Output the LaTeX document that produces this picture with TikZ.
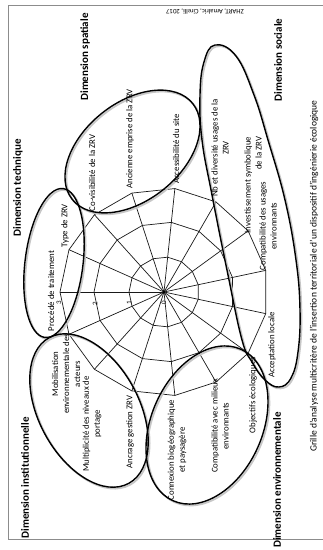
\documentclass[tikz,border=0pt]{standalone}
\usepackage{fontspec}
\setmainfont{Carlito}
\newcommand\lblfont{\fontsize{8.8}{11}\selectfont}
\newcommand\ttlfont{\fontsize{11}{13}\selectfont\bfseries}
\newcommand\capfont{\fontsize{9.5}{11}\selectfont}
\newcommand\srcfont{\fontsize{6.8}{8}\selectfont}
\newcommand\tickfont{\fontsize{7}{8}\selectfont}
\tikzset{
  lab/.style={rotate=90, align=center, font=\lblfont, inner sep=0pt},
  ttl/.style={rotate=90, font=\ttlfont, inner sep=0pt},
  tick/.style={rotate=90, font=\tickfont, inner sep=0pt},
  blob/.style={line width=1.4pt, black},
  shad/.style={line width=1.8pt, black!22, shift={(1.4,1.4)}},
  web/.style={line width=0.7pt, black!90},
  frame/.style={line width=0.6pt, black!45},
}
\begin{document}
\begin{tikzpicture}[x=1pt,y=-1pt]
\useasboundingbox (0,0) rectangle (323,550);
\draw[frame] (323,5) -- (8,5) -- (8,539) -- (323,539);

% radar web
\coordinate (c) at (164,292);
\foreach \k in {0,...,14} {
  \coordinate (v\k) at ([shift={(180+24*\k:104)}]c);
  \draw[web] (c) -- (v\k);
}
\foreach \r in {35,70,104} {
  \draw[web] ([shift={(180:\r)}]c)
    \foreach \k in {1,...,14} { -- ([shift={(180+24*\k:\r)}]c) } -- cycle;
}
\fill (c) circle (1.3);

% tick labels
\node[tick] (t0) at (164,303) {0};
\node[tick] (t1) at (129,303) {1};
\node[tick] (t2) at (95,304) {2};
\node[tick] (t3) at (59,303) {3};

% dimension blobs (shadows first)
\draw[shad,rotate around={83:(54,263)}] (54,263) ellipse [x radius=75, y radius=29];
\draw[shad,rotate around={38.5:(132.5,151.5)}] (132.5,151.5) ellipse [x radius=77, y radius=49];
\draw[shad,rotate around={-61.4:(89,410.5)}] (89,410.5) ellipse [x radius=83, y radius=50];
\draw[shad,rotate around={65.8:(207,425)}] (207,425) ellipse [x radius=83, y radius=55.5];
\draw[shad] plot[smooth cycle, tension=0.7] coordinates {(215,45) (236,56) (254,95) (268,140) (285,200) (296,260) (300,310) (298,352) (291,378) (279,387) (265,380) (252,362) (242,340) (228,275) (212,195) (202,140) (200,95) (204,62)};

\draw[blob,rotate around={83:(54,263)}] (54,263) ellipse [x radius=75, y radius=29];
\draw[blob,rotate around={38.5:(132.5,151.5)}] (132.5,151.5) ellipse [x radius=77, y radius=49];
\draw[blob,rotate around={-61.4:(89,410.5)}] (89,410.5) ellipse [x radius=83, y radius=50];
\draw[blob,rotate around={65.8:(207,425)}] (207,425) ellipse [x radius=83, y radius=55.5];
\draw[blob] plot[smooth cycle, tension=0.7] coordinates {(215,45) (236,56) (254,95) (268,140) (285,200) (296,260) (300,310) (298,352) (291,378) (279,387) (265,380) (252,362) (242,340) (228,275) (212,195) (202,140) (200,95) (204,62)};

% axis labels
\node[lab] (lp)  at (51,291)  {Procédé de traitement};
\node[lab] (lt)  at (65,226)  {Type de ZRV};
\node[lab] (lcv) at (92,173)  {Co-visibilité de la ZRV};
\node[lab] (lae) at (130,139) {Ancienne emprise de la ZRV};
\node[lab] (las) at (176,149) {Accessibilité du site};
\node[lab] (lnb) at (220,148) {Nb et diversité usages de la\\ZRV};
\node[lab, align=right] (lis) at (253,185) {Investissement symbolique\\de la ZRV\hspace{5pt}};
\node[lab] (lcu) at (268,226) {Compatibilité des usages\\environnants};
\node[lab] (lal) at (272,345) {Acceptation locale};
\node[lab] (loe) at (253,395) {Objectifs écologiques};
\node[lab] (lcm) at (220,426) {Compatibilité avec milieux\\environnants};
\node[lab] (lcb) at (177,450) {Connexion biogéographique\\et paysagère};
\node[lab] (lag) at (130,432) {Ancrage gestion ZRV};
\node[lab] (lmn) at (92,424)  {Multiplicité des niveaux de\\portage};
\node[lab] (lme) at (66,374)  {Mobilisation\\environnementale des\\acteurs};

% titles
\node[ttl] (dt) at (18,188) {Dimension technique};
\node[ttl] (ds) at (85,57)  {Dimension spatiale};
\node[ttl] (dso) at (278,60) {Dimension sociale};
\node[ttl] (di) at (25,478) {Dimension institutionnelle};
\node[ttl] (de) at (277,480) {Dimension environnementale};

% caption and source
\node[rotate=90, font=\capfont, inner sep=0pt] (cap) at (314,276)
  {Grille d'analyse multicritère de l'insertion territoriale d'un dispositif d'ingénierie écologique};
\node[rotate=180, font=\srcfont, inner sep=0pt] (src) at (205,11) {ZHART, Amalric, Cirelli, 2017};
\end{tikzpicture}
\end{document}
